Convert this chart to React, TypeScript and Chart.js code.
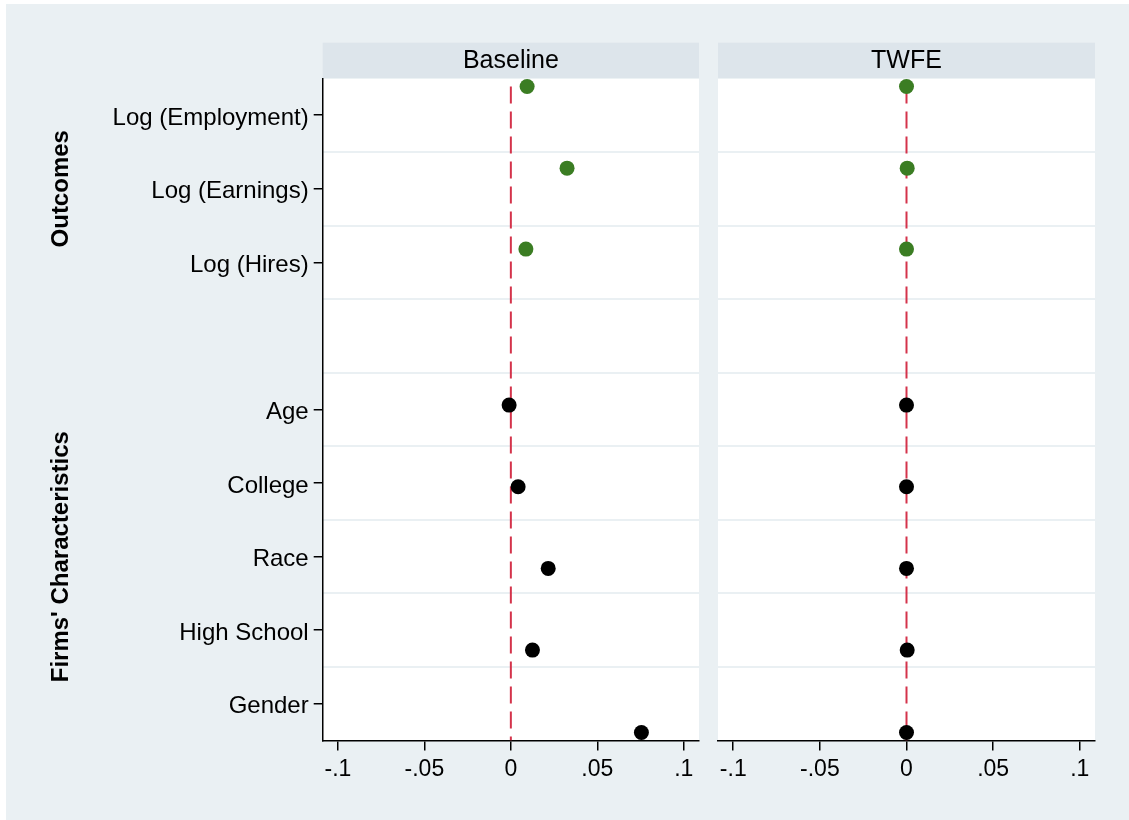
import React, { useEffect, useRef } from 'react';
import { Chart, registerables } from 'chart.js';
Chart.register(...registerables);

// ---- data ----
const categories = ['Log (Employment)', 'Log (Earnings)', 'Log (Hires)', 'Age', 'College', 'Race', 'High School', 'Gender'];
const labelRows = [1, 2, 3, 5, 6, 7, 8, 9];
const pointRows = [0.61, 1.72, 2.82, 4.94, 6.05, 7.16, 8.27, 9.39];
const gridRows = [1.5, 2.5, 3.5, 4.5, 5.5, 6.5, 7.5, 8.5];
const baselineValues = [0.0094, 0.0325, 0.0087, -0.001, 0.0042, 0.0216, 0.0125, 0.0755];
const twfeValues = [0.0, 0.0004, 0.0, 0.0, 0.0, 0.0, 0.0004, 0.0];
const isOutcome = [true, true, true, false, false, false, false, false];
const xTicks = [-0.1, -0.05, 0, 0.05, 0.1];
const xTickLabels = ['-.1', '-.05', '0', '.05', '.1'];
const groups = [
  { label: 'Outcomes', from: 1, to: 3 },
  { label: "Firms' Characteristics", from: 5, to: 9 },
];
const panelTitles = ['Baseline', 'TWFE'];

const FONT = '"Liberation Sans", Arial, Helvetica, sans-serif';
const BG = '#eaf0f3';
const HEADER = '#dde5eb';
const GREEN = '#3b7d23';
const RED = '#d4334b';

function buildConfig(values: number[], title: string, showLabels: boolean, padding: any): any {
  const points = values.map((v, i) => ({ x: v, y: pointRows[i] }));
  const zeroLine = [{ x: 0, y: pointRows[0] }, { x: 0, y: 9.5 }];
  const headerPlugin = {
    id: 'panelDeco',
    beforeDraw(chart: any) {
      const { ctx, chartArea } = chart;
      ctx.save();
      ctx.fillStyle = '#ffffff';
      ctx.fillRect(chartArea.left, chartArea.top, chartArea.right - chartArea.left, chartArea.bottom - chartArea.top);
      ctx.fillStyle = HEADER;
      ctx.fillRect(chartArea.left, chartArea.top - 35.7, chartArea.right - chartArea.left, 35.7);
      ctx.fillStyle = '#000';
      ctx.font = `25px ${FONT}`;
      ctx.textAlign = 'center';
      ctx.textBaseline = 'middle';
      ctx.fillText(title, (chartArea.left + chartArea.right) / 2, chartArea.top - 17.5);
      if (showLabels) {
        const ys = chart.scales.y;
        ctx.font = `bold 24px ${FONT}`;
        groups.forEach((g) => {
          const cy = (ys.getPixelForValue(g.from) + ys.getPixelForValue(g.to)) / 2;
          ctx.save();
          ctx.translate(61, cy);
          ctx.rotate(-Math.PI / 2);
          ctx.fillText(g.label, 0, 0);
          ctx.restore();
        });
      }
      ctx.restore();
    },
  };

  const scales: any = {
    x: {
      type: 'linear',
      min: -0.1088,
      max: 0.1088,
      afterBuildTicks: (s: any) => { s.ticks = xTicks.map((v) => ({ value: v })); },
      afterFit: (s: any) => { s.height = 79.4; },
      ticks: {
        autoSkip: false,
        maxRotation: 0,
        color: '#000',
        padding: 5,
        font: { family: FONT, size: 23 },
        callback: (_v: any, i: number) => xTickLabels[i],
      },
      grid: { drawOnChartArea: false, drawTicks: true, tickLength: 10, color: '#000', lineWidth: 1.5 },
      border: { display: true, color: '#000', width: 1.5 },
    },
    yg: {
      type: 'linear',
      reverse: true,
      min: 0.5,
      max: 9.5,
      position: 'left',
      z: -1,
      afterBuildTicks: (s: any) => { s.ticks = gridRows.map((v) => ({ value: v })); },
      afterFit: (s: any) => { s.width = 0; },
      ticks: { display: false },
      grid: { color: BG, lineWidth: 2, drawTicks: false },
      border: { display: false },
    },
  };
  if (showLabels) {
    scales.y = {
      type: 'linear',
      reverse: true,
      min: 0.5,
      max: 9.5,
      position: 'left',
      afterBuildTicks: (s: any) => { s.ticks = labelRows.map((v) => ({ value: v })); },
      afterFit: (s: any) => { s.width = 322.7; },
      ticks: {
        autoSkip: false,
        color: '#000',
        padding: 5,
        labelOffset: 3,
        font: { family: FONT, size: 24 },
        callback: (_v: any, i: number) => categories[i],
      },
      grid: { drawOnChartArea: false, drawTicks: true, tickLength: 9, color: '#000', lineWidth: 1.5 },
      border: { display: true, color: '#000', width: 1.5 },
    };
  } else {
    scales.y = {
      type: 'linear',
      reverse: true,
      min: 0.5,
      max: 9.5,
      position: 'left',
      display: false,
    };
  }

  return {
    data: {
      datasets: [
        {
          type: 'line',
          data: zeroLine,
          borderColor: RED,
          borderWidth: 2,
          borderDash: [17, 8],
          pointRadius: 0,
          fill: false,
          tension: 0,
          order: 2,
          xAxisID: 'x',
          yAxisID: 'y',
        },
        {
          type: 'scatter',
          data: points,
          backgroundColor: isOutcome.map((o) => (o ? GREEN : '#000')),
          pointBackgroundColor: isOutcome.map((o) => (o ? GREEN : '#000')),
          pointRadius: 7.5,
          pointBorderWidth: 0,
          borderWidth: 0,
          order: 1,
          xAxisID: 'x',
          yAxisID: 'y',
        },
      ],
    },
    options: {
      responsive: false,
      animation: false,
      devicePixelRatio: 1,
      layout: { padding },
      plugins: { legend: { display: false }, tooltip: { enabled: false }, title: { display: false } },
      scales,
    },
    plugins: [headerPlugin],
  };
}

export default function App() {
  const leftRef = useRef<HTMLCanvasElement>(null);
  const rightRef = useRef<HTMLCanvasElement>(null);

  useEffect(() => {
    document.body.style.margin = '0';
    const left = new Chart(leftRef.current as HTMLCanvasElement, buildConfig(baselineValues, panelTitles[0], true, { left: 0, top: 78.4, right: 11, bottom: 0 }));
    const right = new Chart(rightRef.current as HTMLCanvasElement, buildConfig(twfeValues, panelTitles[1], false, { left: 13, top: 78.4, right: 34, bottom: 0 }));
    return () => {
      left.destroy();
      right.destroy();
    };
  }, []);

  return (
    <div style={{ position: 'relative', width: 1129, height: 820, background: '#fff', overflow: 'hidden' }}>
      <div style={{ position: 'absolute', left: 6, top: 4, right: 0, bottom: 0, background: BG }} />
      <canvas ref={leftRef} width={710} height={820} style={{ position: 'absolute', left: 0, top: 0, width: 710, height: 820 }} />
      <canvas ref={rightRef} width={424} height={820} style={{ position: 'absolute', left: 705, top: 0, width: 424, height: 820 }} />
    </div>
  );
}
